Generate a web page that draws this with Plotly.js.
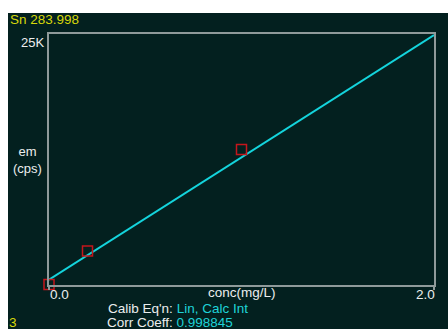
<!DOCTYPE html>
<html>
<head>
<meta charset="utf-8">
<script src="https://cdn.plot.ly/plotly-3.0.1.min.js"></script>
<style>
  html, body { margin: 0; padding: 0; background: #ffffff; }
  #bg { position: absolute; left: 8px; top: 13px; width: 440px; height: 316px; background: #03201f; }
  #chart { position: absolute; left: 0; top: 0; width: 448px; height: 329px; }
</style>
</head>
<body>
<div id="bg"></div>
<div id="chart"></div>
<script>
// Calibration standards (conc mg/L vs emission cps)
const stdConc = [0.0, 0.2, 1.0, 2.0];
const stdCps  = [50, 3390, 13500, 25050];
// Fitted calibration line
const fitConc = [0.0, 2.0];
const fitCps  = [520, 24900];
// Tick labels
const xTickVals = [0.0, 2.0];
const xTickText = ['0.0', '2.0'];
const yTickVals = [25000];
const yTickText = ['25K'];

const element = 'Sn 283.998';
const calibEq = 'Lin, Calc Int';
const corrCoeff = '0.998845';
const stdCount = '3';

const gray = '#8f9a9a';
const txt = '#eceeee';
const cyan = '#1fd3d8';
const yellow = '#d8d80a';
const fnt = 'Liberation Sans, Arial, sans-serif';
const fs = 13.5;

const traces = [
  {
    x: fitConc, y: fitCps, mode: 'lines', type: 'scatter',
    line: { color: '#14d4dc', width: 2 }, hoverinfo: 'skip', cliponaxis: false
  },
  {
    x: stdConc, y: stdCps, mode: 'markers', type: 'scatter',
    marker: { symbol: 'square-open', size: 10, color: '#c4161c', line: { width: 1.5, color: '#c4161c' } },
    cliponaxis: false
  }
];

const annotations = [
  { text: element, xref: 'paper', yref: 'paper', x: (8-49)/385, y: (285-19)/251, xanchor: 'left', yanchor: 'middle', showarrow: false, font: { family: fnt, size: fs, color: yellow } },
  { text: stdCount, xref: 'paper', yref: 'paper', x: (7-49)/385, y: (285-322.5)/251, xanchor: 'left', yanchor: 'middle', showarrow: false, font: { family: fnt, size: fs, color: yellow } },
  { text: 'em<br>(cps)', xref: 'paper', yref: 'paper', x: (27-49)/385, y: (285-160)/251, xanchor: 'center', yanchor: 'middle', showarrow: false, align: 'center', font: { family: fnt, size: 13, color: txt } },
  { text: yTickText[0], xref: 'x', yref: 'y', x: 0, y: yTickVals[0], xanchor: 'right', yanchor: 'top', xshift: -3, yshift: 1, showarrow: false, font: { family: fnt, size: 13, color: txt } },
  { text: xTickText[0], xref: 'x', yref: 'paper', x: xTickVals[0], y: 0, xanchor: 'left', yanchor: 'top', xshift: -1, yshift: 0, showarrow: false, font: { family: fnt, size: fs, color: txt } },
  { text: xTickText[1], xref: 'x', yref: 'paper', x: xTickVals[1], y: 0, xanchor: 'right', yanchor: 'top', xshift: 3, yshift: 0, showarrow: false, font: { family: fnt, size: fs, color: txt } },
  { text: 'conc(mg/L)', xref: 'paper', yref: 'paper', x: (242-49)/385, y: (285-292.5)/251, xanchor: 'center', yanchor: 'middle', showarrow: false, font: { family: fnt, size: fs, color: txt } },
  { text: "Calib Eq'n: <span style='color:" + cyan + "'>" + calibEq + "</span>", xref: 'paper', yref: 'paper', x: (106-49)/385, y: (285-308)/251, xanchor: 'left', yanchor: 'middle', showarrow: false, font: { family: fnt, size: fs, color: txt } },
  { text: "Corr Coeff: <span style='color:" + cyan + "'>" + corrCoeff + "</span>", xref: 'paper', yref: 'paper', x: (105-49)/385, y: (285-322.5)/251, xanchor: 'left', yanchor: 'middle', showarrow: false, font: { family: fnt, size: fs, color: txt } }
];

const layout = {
  width: 448, height: 329,
  margin: { l: 49, r: 14, t: 34, b: 44, pad: 0 },
  paper_bgcolor: 'rgba(0,0,0,0)',
  plot_bgcolor: 'rgba(0,0,0,0)',
  showlegend: false,
  xaxis: {
    range: [0, 2], showgrid: false, zeroline: false, showline: true, mirror: true,
    linecolor: gray, linewidth: 2, ticks: 'outside', ticklen: 3, tickcolor: gray, tickwidth: 2,
    tickvals: xTickVals, showticklabels: false, fixedrange: true
  },
  yaxis: {
    range: [0, 25000], showgrid: false, zeroline: false, showline: true, mirror: true,
    linecolor: gray, linewidth: 2, ticks: '', tickvals: yTickVals, showticklabels: false, fixedrange: true
  },
  annotations: annotations
};

Plotly.newPlot('chart', traces, layout, { displayModeBar: false, staticPlot: true });
</script>
</body>
</html>
